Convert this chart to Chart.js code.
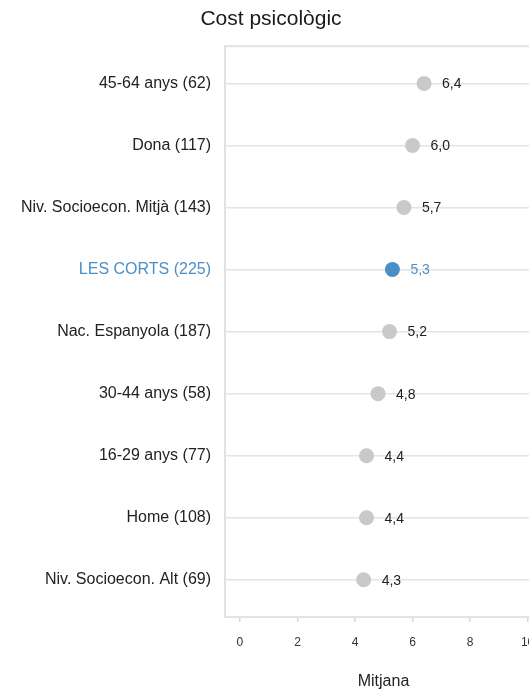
<!DOCTYPE html>
<html>
<head>
<meta charset="utf-8">
<script src="https://cdn.jsdelivr.net/npm/chart.js@4"></script>
<style>
  body { margin: 0; overflow: hidden; background: #fff; }
  canvas { display: block; }
</style>
</head>
<body>
<canvas id="chart" width="542" height="690"></canvas>
<script>
const categories = [
  '45-64 anys (62)',
  'Dona (117)',
  'Niv. Socioecon. Mitjà (143)',
  'LES CORTS (225)',
  'Nac. Espanyola (187)',
  '30-44 anys (58)',
  '16-29 anys (77)',
  'Home (108)',
  'Niv. Socioecon. Alt (69)'
]
const values = [6.4, 6.0, 5.7, 5.3, 5.2, 4.8, 4.4, 4.4, 4.3]
const highlight = 'LES CORTS (225)'
const xTicks = [0, 2, 4, 6, 8, 10]

const grey = '#c9c9c9'
const blue = '#4a8fc7'
const font = '"Liberation Sans", Arial, sans-serif'

const isHi = i => categories[i] === highlight

// value labels next to each dot
const valueLabels = {
  id: 'valueLabels',
  afterDatasetsDraw(chart) {
    const ctx = chart.ctx
    const meta = chart.getDatasetMeta(0)
    ctx.save()
    ctx.font = '14px ' + font
    ctx.textAlign = 'left'
    ctx.textBaseline = 'middle'
    meta.data.forEach((pt, i) => {
      ctx.fillStyle = isHi(i) ? blue : '#222'
      ctx.fillText(values[i].toFixed(1).replace('.', ','), pt.x + 18, pt.y + 1)
    })
    ctx.restore()
  }
}

// grey frame around plot area
const frame = {
  id: 'frame',
  beforeDatasetsDraw(chart) {
    const {ctx, chartArea: a} = chart
    ctx.save()
    ctx.strokeStyle = '#e2e2e2'
    ctx.lineWidth = 2
    ctx.strokeRect(a.left, a.top, a.right - a.left, a.bottom - a.top)
    ctx.restore()
  }
}

new Chart(document.getElementById('chart'), {
  type: 'scatter',
  data: {
    datasets: [{
      data: values.map((v, i) => ({x: v, y: i})),
      backgroundColor: categories.map((c, i) => isHi(i) ? blue : grey),
      borderWidth: 0,
      pointRadius: 7.5,
      pointHoverRadius: 7.5
    }]
  },
  options: {
    responsive: false,
    animation: false,
    layout: { padding: 0, autoPadding: false },
    plugins: {
      legend: { display: false },
      tooltip: { enabled: false },
      title: {
        display: true,
        text: 'Cost psicològic',
        color: '#1a1a1a',
        font: { family: font, size: 21, weight: 'normal', lineHeight: 1.2 },
        padding: { top: 7, bottom: 14 }
      }
    },
    scales: {
      x: {
        type: 'linear',
        min: -0.52,
        max: 10.5,
        afterBuildTicks: s => { s.ticks = xTicks.map(v => ({value: v})) },
        afterFit: s => { s.height = 73 },
        grid: { drawOnChartArea: false, drawTicks: true, tickLength: 5, color: '#d9d9d9', lineWidth: 1.5 },
        border: { display: false },
        ticks: { color: '#333', font: { family: font, size: 12, lineHeight: 3.5 }, padding: 0, maxRotation: 0 },
        title: {
          display: true,
          text: 'Mitjana',
          color: '#222',
          font: { family: font, size: 16, lineHeight: 1 },
          padding: { top: 0, bottom: 0 }
        }
      },
      y: {
        type: 'linear',
        reverse: true,
        min: -0.6,
        max: 8.6,
        afterBuildTicks: s => { s.ticks = categories.map((c, i) => ({value: i})) },
        afterFit: s => { s.width = 225 },
        grid: { color: '#e4e4e4', lineWidth: 1.5, drawTicks: false },
        border: { display: false },
        ticks: {
          padding: 14,
          font: { family: font, size: 16 },
          color: c => isHi(c.tick.value) ? blue : '#222',
          callback: v => categories[v]
        }
      }
    }
  },
  plugins: [frame, valueLabels]
})
</script>
</body>
</html>
